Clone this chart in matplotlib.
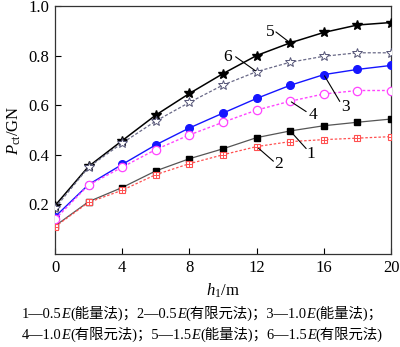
import matplotlib
matplotlib.use("Agg")
import matplotlib.pyplot as plt

plt.rcParams["font.family"] = ["Liberation Serif", "Noto Sans CJK SC"]
plt.rcParams["mathtext.fontset"] = "custom"
plt.rcParams["mathtext.rm"] = "Liberation Serif"
plt.rcParams["mathtext.it"] = "Liberation Serif:italic"

# ============================================================
# DATA
# ============================================================

h1 = [0, 2, 4, 6, 8, 10, 12, 14, 16, 18, 20]

p1 = [0.113, 0.211, 0.268, 0.335, 0.384, 0.424, 0.469, 0.496, 0.517, 0.531, 0.544]
p2 = [0.110, 0.208, 0.257, 0.320, 0.364, 0.400, 0.433, 0.453, 0.461, 0.467, 0.473]
p3 = [0.150, 0.280, 0.361, 0.440, 0.508, 0.568, 0.627, 0.680, 0.723, 0.744, 0.760]
p4 = [0.140, 0.278, 0.350, 0.421, 0.480, 0.531, 0.580, 0.616, 0.645, 0.659, 0.659]
p5 = [0.195, 0.353, 0.457, 0.560, 0.647, 0.727, 0.800, 0.851, 0.893, 0.923, 0.933]
p6 = [0.185, 0.350, 0.447, 0.536, 0.611, 0.681, 0.735, 0.773, 0.797, 0.811, 0.811]

x_ticks = [0, 4, 8, 12, 16, 20]
y_ticks = [0.2, 0.4, 0.6, 0.8, 1.0]

# label, index of the point it points at, text position, leader start (data units)
callouts = [
    ("1", 7, (15.2, 0.405), (14.95, 0.425)),
    ("2", 6, (13.3, 0.362), (13.0, 0.374)),
    ("3", 8, (17.3, 0.594), (16.95, 0.615)),
    ("4", 7, (15.35, 0.562), (14.95, 0.574)),
    ("5", 7, (12.8, 0.895), (13.15, 0.895)),
    ("6", 6, (10.3, 0.795), (10.75, 0.795)),
]

# caption pieces: (plain, italic) pairs
caption_1 = [("1—0.5", "E"), ("(能量法)；2—0.5", "E"), ("(有限元法)；3—1.0", "E"), ("(能量法)；", "")]
caption_2 = [("4—1.0", "E"), ("(有限元法)；5—1.5", "E"), ("(能量法)；6—1.5", "E"), ("(有限元法)", "")]

# ============================================================
# PLOT
# ============================================================

fig = plt.figure(figsize=(4.0, 3.47), dpi=100)
ax = fig.add_axes([0.1375, 0.268, 0.84, 0.715])

ax.plot(h1, p1, color="#555555", lw=0.9, marker="s", ms=4.5, mfc="black", mec="black", zorder=3)
ax.plot(h1, p2, color="#ff5050", lw=0.9, ls=(0, (2, 1.5)), marker="s", ms=5, mfc="white", mec="#ff5050", mew=0.8, zorder=3)
ax.plot(h1, p2, ls="none", marker="+", ms=5, mec="#ff5050", mew=0.7, zorder=4)
ax.plot(h1, p3, color="#1515ff", lw=1.0, marker="o", ms=5.5, mfc="#1515ff", mec="#1515ff", zorder=3)
ax.plot(h1, p4, color="#ff44ff", lw=1.0, ls=(0, (2, 1.5)), marker="o", ms=6, mfc="white", mec="#ff44ff", mew=0.9, zorder=3)
ax.plot(h1, p5, color="black", lw=1.1, marker="*", ms=7, mfc="black", mec="black", zorder=3)
ax.plot(h1, p6, color="#6a6a88", lw=0.9, ls=(0, (2.5, 1.5)), marker="*", ms=7.5, mfc="white", mec="#555577", mew=0.7, zorder=3)

series = {"1": p1, "2": p2, "3": p3, "4": p4, "5": p5, "6": p6}
for label, idx, (tx, ty), start in callouts:
    ax.text(tx, ty, label, fontsize=12.5, ha="center", va="center")
    ax.annotate("", xy=(h1[idx], series[label][idx]), xytext=start,
                arrowprops=dict(arrowstyle="-", color="black", lw=0.8, shrinkA=0, shrinkB=1))

ax.set_xlim(0, 20)
ax.set_ylim(0, 1.0)
ax.set_xticks(x_ticks)
ax.set_yticks(y_ticks)
ax.set_yticklabels([f"{v:.1f}" for v in y_ticks])
ax.tick_params(direction="in", labelsize=12, length=4, width=0.8, pad=4)
for s in ax.spines.values():
    s.set_linewidth(0.9)
    s.set_color("#333333")

ax.set_xlabel(r"$h_{\mathrm{1}}$/m", fontsize=12, labelpad=4)
ax.set_ylabel(r"$P_{\mathrm{ct}}$/GN", fontsize=12, labelpad=4)


def caption(parts, x, y, size=10.4):
    # chain the pieces left to right, E in italic
    t = fig.text(x, y, parts[0][0], fontsize=size, va="baseline", ha="left")
    first = True
    for plain, it in parts:
        if not first:
            t = ax.annotate(plain, xy=(1, 0), xycoords=t, va="bottom", ha="left",
                            fontsize=size, annotation_clip=False)
        first = False
        if it:
            t = ax.annotate(it, xy=(1, 0), xycoords=t, va="bottom", ha="left",
                            fontsize=size, fontstyle="italic", annotation_clip=False)


caption(caption_1, 22 / 400, 1 - 318 / 347)
caption(caption_2, 22 / 400, 1 - 339 / 347)

fig.savefig("out.png", dpi=100)
